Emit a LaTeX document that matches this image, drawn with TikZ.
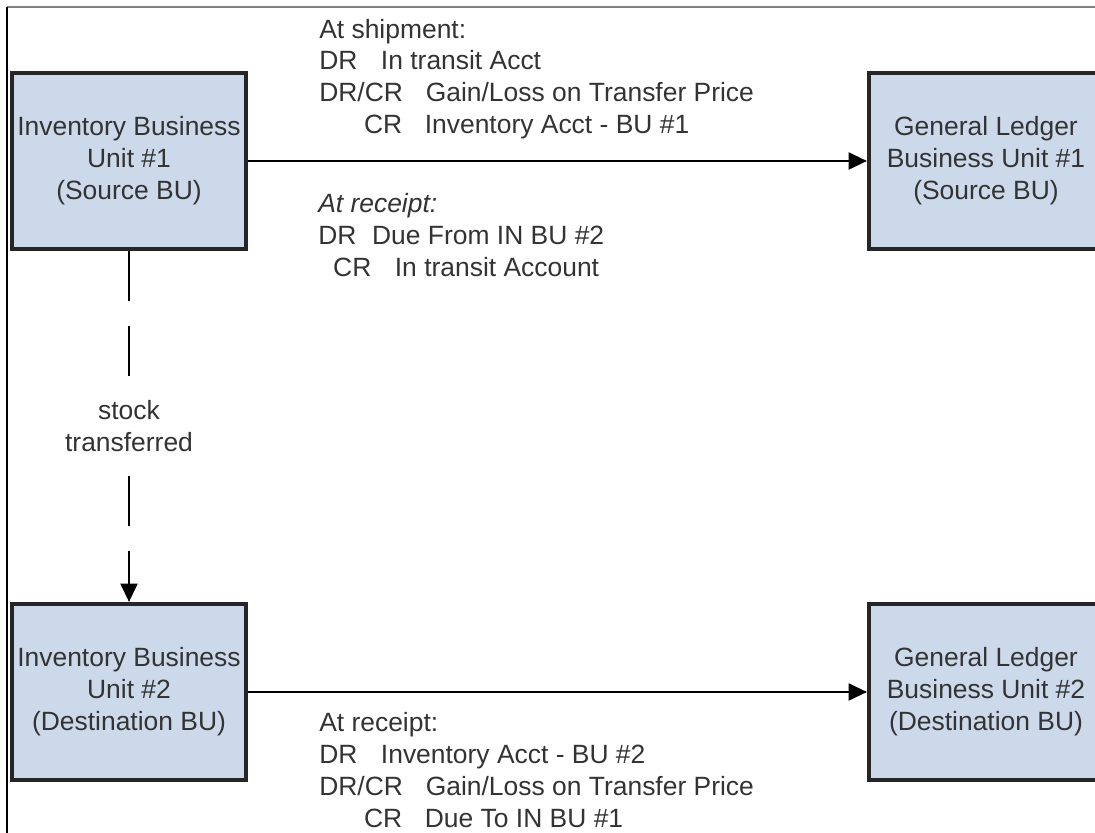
\documentclass[tikz,border=0pt]{standalone}
\usepackage{fontspec}
\setmainfont{Liberation Sans}
\usetikzlibrary{arrows.meta}
\definecolor{unitfill}{RGB}{204,217,235}
\definecolor{inkgray}{RGB}{51,51,51}
\newcommand{\accfont}{\fontsize{18.8}{22.7}\selectfont}

\begin{document}
\begin{tikzpicture}[
    unit/.style={draw=black!85, fill=unitfill, line width=2.6pt,
      minimum width=5.86cm, minimum height=4.41cm, inner sep=0pt,
      align=center, text=inkgray, font=\accfont},
    entry/.style={anchor=north west, inner sep=0pt, align=left,
      text=inkgray, font=\accfont},
    flow/.style={line width=2pt, -{Triangle[length=0.46cm, width=0.42cm]}},
  ]
    \useasboundingbox (0, 0) rectangle (27.375, 20.825);
    % frame
    \coordinate (TL) at (0.175, 20.65);
    \draw[gray, line width=0.8pt] (TL) -- (27.375, 20.65);
    \draw[line width=1pt] (TL) -- (0.175, 0);
    % business units
    \node[unit] (in1) at (3.225, 16.8) {Inventory Business\\Unit \#1\\(Source BU)};
    \node[unit] (gl1) at (24.65, 16.8) {General Ledger\\Business Unit \#1\\(Source BU)};
    \node[unit] (in2) at (3.225, 3.525) {Inventory Business\\Unit \#2\\(Destination BU)};
    \node[unit] (gl2) at (24.65, 3.525) {General Ledger\\Business Unit \#2\\(Destination BU)};
    % connectors
    \draw[flow] (in1) -- (gl1);
    \draw[flow] (in2) -- (gl2);
    \draw[flow, dash pattern=on 1.25cm off 0.625cm] (in1) --
      node[fill=white, align=center, text=inkgray, font=\accfont] (moved) {stock\\transferred} (in2);
    % journal entries
    \node[entry] (shipment) at (7.975, 20.36) {At shipment:\\
      \makebox[43.9pt][l]{DR}In transit Acct\\
      \makebox[75.8pt][l]{DR/CR}Gain/Loss on Transfer Price\\
      \hspace*{31.9pt}\makebox[43.2pt][l]{CR}Inventory Acct - BU \#1};
    \node[entry] (receiptA) at (7.95, 16.0) {\textit{At receipt:}\\
      \makebox[38.3pt][l]{DR}Due From IN BU \#2\\
      \hspace*{10.6pt}\makebox[43.9pt][l]{CR}In transit Account};
    \node[entry] (receiptB) at (7.975, 3.025) {At receipt:\\
      \makebox[43.9pt][l]{DR}Inventory Acct - BU \#2\\
      \makebox[75.8pt][l]{DR/CR}Gain/Loss on Transfer Price\\
      \hspace*{31.9pt}\makebox[43.2pt][l]{CR}Due To IN BU \#1};
  \end{tikzpicture}
\end{document}
